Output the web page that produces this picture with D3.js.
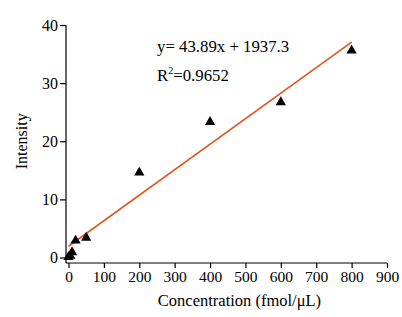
<!DOCTYPE html>
<html>
<head>
<meta charset="utf-8">
<script src="https://cdn.jsdelivr.net/npm/d3@7"></script>
<style>
  body { margin: 0; background: #fff; }
  svg text { font-family: "Liberation Serif", "Times New Roman", serif; fill: #000; }
</style>
</head>
<body>
<div id="chart"></div>
<script>
// data (intensity in thousands)
let concentration = [0, 5, 10, 20, 50, 200, 400, 600, 800];
let intensity = [0.1, 0.3, 0.9, 2.9, 3.4, 14.6, 23.3, 26.7, 35.6];
let xTicks = [0, 100, 200, 300, 400, 500, 600, 700, 800, 900];
let yTicks = [0, 10, 20, 30, 40];
let slope = 43.89, intercept = 1937.3;
let fitRange = [0, 800];

let width = 402, height = 317;

let svg = d3.select("#chart")
    .append("svg")
    .attr("width", width)
    .attr("height", height);

let x = d3.scaleLinear()
    .domain([0, 900])
    .range([68.5, 387]);

let y = d3.scaleLinear()
    .domain([0, 40])
    .range([257.5, 25]);

let axisX = 66, axisY = 263;

// x axis
let gx = svg.append("g")
    .attr("transform", `translate(0, ${axisY})`)
    .call(d3.axisBottom(x).tickValues(xTicks).tickSize(5).tickPadding(3).tickSizeOuter(0));
gx.select(".domain").attr("d", `M${axisX},0H${x(900)}`);

// y axis
let gy = svg.append("g")
    .attr("transform", `translate(${axisX}, 0)`)
    .call(d3.axisLeft(y).tickValues(yTicks).tickSize(6).tickPadding(2).tickSizeOuter(0));
gy.select(".domain").attr("d", `M0,${y(40)}V${axisY}`);

gx.selectAll(".tick text").attr("font-size", 15.5).attr("font-family", "Liberation Serif");
gy.selectAll(".tick text").attr("font-size", 16).attr("font-family", "Liberation Serif");
svg.selectAll(".domain, .tick line").attr("stroke", "#000").attr("stroke-width", 1.2);

// fitted line
svg.append("path")
    .datum(fitRange)
    .attr("fill", "none")
    .attr("stroke", "#E0561E")
    .attr("stroke-width", 1.6)
    .attr("d", d3.line()
        .x(function (d) { return x(d); })
        .y(function (d) { return y((slope * d + intercept) / 1000); }));

// triangle markers
svg.selectAll(".pt")
    .data(concentration)
    .enter()
    .append("path")
    .attr("class", "pt")
    .attr("d", d3.symbol().type(d3.symbolTriangle).size(46))
    .attr("transform", function (d, i) { return `translate(${x(d)}, ${y(intensity[i])})`; })
    .attr("fill", "#000");

// equation
svg.append("text")
    .attr("x", 157)
    .attr("y", 52)
    .attr("font-size", 16.8)
    .text("y= 43.89x + 1937.3");

let r2 = svg.append("text")
    .attr("x", 157)
    .attr("y", 81)
    .attr("font-size", 16.8);
r2.append("tspan").text("R");
r2.append("tspan").attr("font-size", 10).attr("dy", -7).text("2");
r2.append("tspan").attr("dy", 7).text("=0.9652");

// axis titles
svg.append("text")
    .attr("x", 239.5)
    .attr("y", 306)
    .attr("text-anchor", "middle")
    .attr("font-size", 16.5)
    .text("Concentration (fmol/μL)");

svg.append("text")
    .attr("transform", `translate(27, ${y(20)}) rotate(-90)`)
    .attr("text-anchor", "middle")
    .attr("font-size", 16)
    .text("Intensity");
</script>
</body>
</html>
